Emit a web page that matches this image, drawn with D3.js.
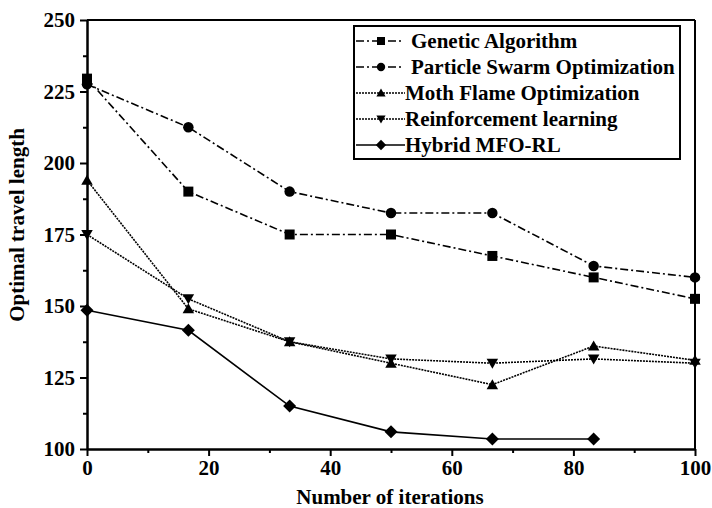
<!DOCTYPE html>
<html>
<head>
<meta charset="utf-8">
<script src="https://cdn.jsdelivr.net/npm/d3@7"></script>
<style>
  body { margin: 0; background: #fff; }
  svg text { font-family: "Liberation Serif", "Times New Roman", serif; font-weight: bold; fill: #000; }
</style>
</head>
<body>
<div id="chartArea"></div>
<script>
// iterations (x) shared by every series
var iterations = [0, 16.67, 33.33, 50, 66.67, 83.33, 100];
var seriesNames = ['Genetic Algorithm', 'Particle Swarm Optimization', 'Moth Flame Optimization',
                   'Reinforcement learning', 'Hybrid MFO-RL'];
var gaValues     = [229.5, 190, 175, 175, 167.5, 160, 152.5];
var psoValues    = [227.5, 212.5, 190, 182.5, 182.5, 164, 160];
var mfoValues    = [194, 149, 137.5, 130, 122.5, 136, 131];
var rlValues     = [175, 152.5, 137.5, 131.5, 130, 131.5, 130];
var hybridValues = [148.5, 141.5, 115, 106, 103.5, 103.5];
var xTicks = [0, 20, 40, 60, 80, 100];
var yTicks = [100, 125, 150, 175, 200, 225, 250];

var width = 712, height = 508;
var margin = {top: 20, right: 17, bottom: 59, left: 87};
var w = width - margin.left - margin.right;
var h = height - margin.top - margin.bottom;

var xscale = d3.scaleLinear().domain([0, 100]).range([0, w]);
var yscale = d3.scaleLinear().domain([100, 250]).range([h, 0]);

var svg = d3.select('#chartArea').append('svg')
    .attr('width', width)
    .attr('height', height);
var g = svg.append('g').attr('transform', 'translate(' + margin.left + ',' + margin.top + ')');

// styles per series
var dashes = ['8,3,2,3', '8,3,2,3', '2,1', '2,1', null];
var symbols = ['square', 'circle', 'up', 'down', 'diamond'];

// marker drawn as a small path, s = half size
function symPath(type, s) {
    if (type === 'square') return 'M' + (-s) + ',' + (-s) + 'H' + s + 'V' + s + 'H' + (-s) + 'Z';
    if (type === 'circle') return d3.symbol().type(d3.symbolCircle).size(Math.PI * s * s * 1.1)();
    if (type === 'up') return 'M0,' + (-s * 1.1) + 'L' + (s * 1.15) + ',' + (s * 0.9) + 'L' + (-s * 1.15) + ',' + (s * 0.9) + 'Z';
    if (type === 'down') return 'M0,' + (s * 1.1) + 'L' + (s * 1.15) + ',' + (-s * 0.9) + 'L' + (-s * 1.15) + ',' + (-s * 0.9) + 'Z';
    var d = s * 1.3;
    return 'M0,' + (-d) + 'L' + d + ',0L0,' + d + 'L' + (-d) + ',0Z';
}
var allValues = [gaValues, psoValues, mfoValues, rlValues, hybridValues];

// minor ticks
var xMinor = d3.range(10, 100, 20);
var yMinor = d3.range(112.5, 250, 25);

// axes (ticks outward)
g.append('g').attr('transform', 'translate(0,' + h + ')')
    .call(d3.axisBottom(xscale).tickValues(xTicks).tickSize(7).tickSizeOuter(0).tickPadding(4));
g.append('g').attr('transform', 'translate(0,' + h + ')')
    .call(d3.axisBottom(xscale).tickValues(xMinor).tickSize(4).tickFormat('').tickSizeOuter(0));
g.append('g')
    .call(d3.axisLeft(yscale).tickValues(yTicks).tickSize(7).tickSizeOuter(0).tickPadding(5));
g.append('g')
    .call(d3.axisLeft(yscale).tickValues(yMinor).tickSize(4).tickFormat('').tickSizeOuter(0));
g.selectAll('.domain').attr('stroke', '#000').attr('stroke-width', 2);
g.selectAll('.tick line').attr('stroke', '#000').attr('stroke-width', 2);
g.selectAll('.tick text').style('font-size', '21px').style('font-family', '"Liberation Serif", serif');

// frame top/right
g.append('line').attr('x1', 0).attr('x2', w).attr('y1', 0).attr('y2', 0)
    .attr('stroke', '#000').attr('stroke-width', 2);
g.append('line').attr('x1', w).attr('x2', w).attr('y1', 0).attr('y2', h)
    .attr('stroke', '#000').attr('stroke-width', 2);

// series
var line = d3.line()
    .x(function(d, i) { return xscale(iterations[i]); })
    .y(function(d) { return yscale(d); });

allValues.forEach(function(vals, i) {
    g.append('path').datum(vals)
        .attr('d', line)
        .attr('fill', 'none')
        .attr('stroke', '#000')
        .attr('stroke-width', 1.6)
        .attr('stroke-dasharray', dashes[i]);
    g.selectAll('.m' + i).data(vals).enter().append('path')
        .attr('class', 'm' + i)
        .attr('d', symPath(symbols[i], 5))
        .attr('transform', function(d, j) {
            return 'translate(' + xscale(iterations[j]) + ',' + yscale(d) + ')';
        })
        .attr('fill', '#000');
});

// legend
var legend = svg.append('g');
legend.append('rect')
    .attr('x', 354).attr('y', 26).attr('width', 326).attr('height', 133)
    .attr('fill', '#fff').attr('stroke', '#000').attr('stroke-width', 2);
seriesNames.forEach(function(name, i) {
    var yy = 41 + i * 26;
    var x2 = i < 2 ? 402 : 405;
    legend.append('line')
        .attr('x1', 356).attr('x2', x2).attr('y1', yy).attr('y2', yy)
        .attr('stroke', '#000').attr('stroke-width', 1.6)
        .attr('stroke-dasharray', dashes[i]);
    legend.append('path')
        .attr('d', symPath(symbols[i], 4))
        .attr('transform', 'translate(381,' + yy + ')')
        .attr('fill', '#000');
    legend.append('text')
        .attr('x', i < 2 ? 411 : 405)
        .attr('y', yy + 7)
        .style('font-size', '21px')
        .text(name);
});

// axis titles
svg.append('text')
    .attr('x', margin.left + w / 2 - 1)
    .attr('y', 504)
    .attr('text-anchor', 'middle')
    .style('font-size', '21px')
    .text('Number of iterations');
svg.append('text')
    .attr('transform', 'translate(24,' + 225 + ') rotate(-90)')
    .attr('text-anchor', 'middle')
    .style('font-size', '21px')
    .text('Optimal travel length');
</script>
</body>
</html>
